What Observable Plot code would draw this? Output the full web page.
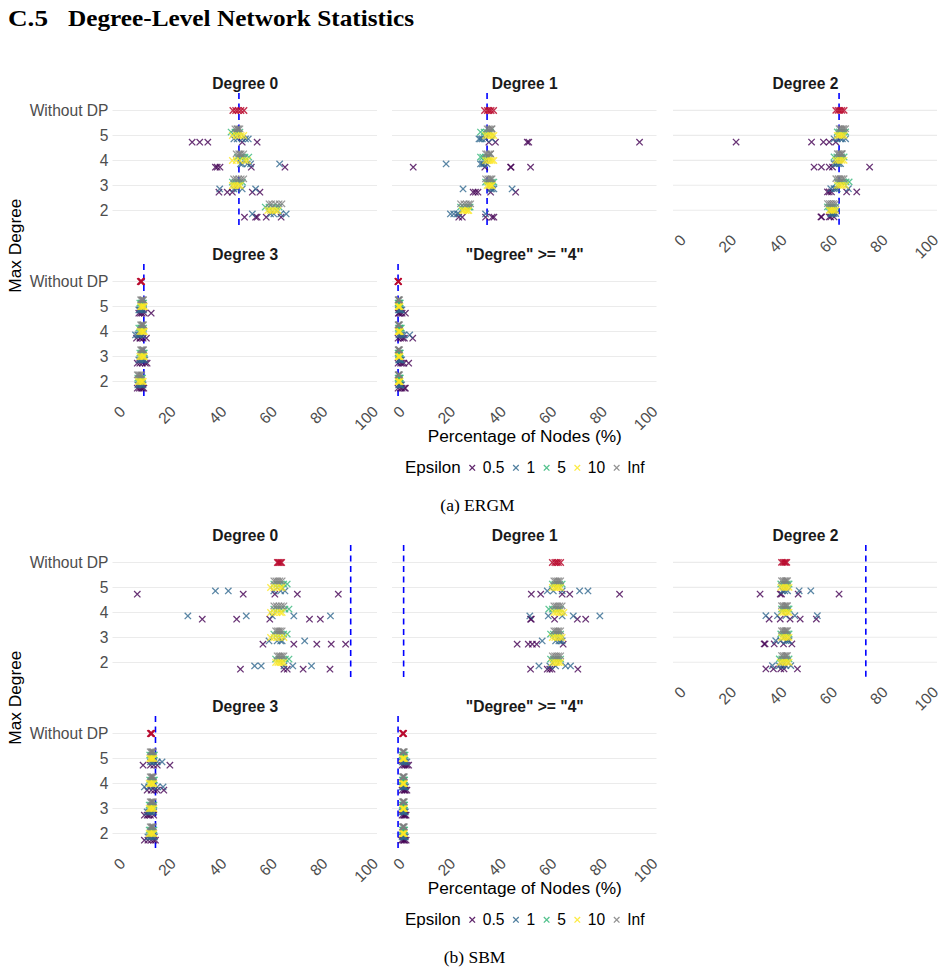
<!DOCTYPE html>
<html>
<head>
<meta charset="utf-8">
<script src="https://cdn.jsdelivr.net/npm/d3@7"></script>
<script src="https://cdn.jsdelivr.net/npm/@observablehq/plot@0.6"></script>
<style>
  body { margin: 0; background: #fff; }
  #page { position: relative; width: 945px; height: 974px; overflow: hidden; background: #fff; }
  .panel { position: absolute; }
  #overlay { position: absolute; left: 0; top: 0; }
</style>
</head>
<body>
<div id="page"></div>
<script>
// ---- categories and labels ----
const panelTitles = ["Degree 0", "Degree 1", "Degree 2", "Degree 3", "\"Degree\" >= \"4\""];
const maxDegreeLevels = ["Without DP", "5", "4", "3", "2"];
const epsilonLevels = ["0.5", "1", "5", "10", "Inf"];
const epsilonColors = ["#440154", "#31688E", "#35B779", "#FDE725", "#7F7F7F"];
const xTicks = [0, 20, 40, 60, 80, 100];
const xDomain = [-2.2, 102.4];

// reference value (dashed line) per degree panel
const ergmReference = [47.6, 35.2, 63.4, 10.0, 0.0];
const sbmReference = [91.8, 2.2, 74.0, 14.6, 0.0];

// ---- ERGM: [max degree, epsilon, percentage of nodes in five runs] ----
const ergmDegree0 = [
  ["5", "0.5", [29.1, 32.1, 35.3, 48.9, 54.8]],
  ["5", "1", [45.6, 46.9, 48.9, 50.2, 51.3]],
  ["5", "5", [44.5, 46.0, 46.5, 47.0, 48.0]],
  ["5", "10", [45.0, 46.5, 47.5, 48.5, 49.5]],
  ["5", "Inf", [46.0, 46.8, 47.0, 47.5, 48.0]],
  ["4", "0.5", [38.3, 39.0, 40.1, 52.5, 65.8]],
  ["4", "1", [48.2, 48.9, 50.9, 52.2, 63.7]],
  ["4", "5", [47.0, 48.5, 49.0, 50.0, 51.5]],
  ["4", "10", [45.0, 46.5, 48.0, 50.0, 51.0]],
  ["4", "Inf", [46.5, 47.5, 48.0, 48.5, 49.5]],
  ["3", "0.5", [39.7, 43.0, 45.0, 52.9, 55.9]],
  ["3", "1", [40.0, 45.6, 46.9, 48.9, 54.2]],
  ["3", "5", [45.0, 46.0, 47.0, 48.0, 49.0]],
  ["3", "10", [45.0, 45.8, 46.5, 47.5, 48.2]],
  ["3", "Inf", [45.5, 46.5, 47.5, 48.5, 49.5]],
  ["2", "0.5", [49.8, 54.2, 54.8, 58.4, 64.3]],
  ["2", "1", [52.9, 60.1, 61.4, 64.1, 66.3]],
  ["2", "5", [58.0, 59.5, 61.0, 62.5, 63.5]],
  ["2", "10", [59.0, 60.0, 61.0, 62.0, 63.0]],
  ["2", "Inf", [59.5, 60.5, 62.0, 63.5, 64.6]]
];
const ergmDegree0NoDP = [45.2, 46.3, 47.3, 48.4, 49.6];

const ergmDegree1 = [
  ["5", "0.5", [35.9, 38.5, 51.1, 51.7, 95.5]],
  ["5", "1", [32.0, 32.6, 33.3, 34.6, 37.2]],
  ["5", "5", [32.6, 34.0, 35.0, 36.0, 36.6]],
  ["5", "10", [34.6, 35.5, 36.5, 37.2, 37.9]],
  ["5", "Inf", [35.2, 35.8, 36.4, 37.0, 37.2]],
  ["4", "0.5", [6.0, 34.3, 44.5, 44.7, 52.4]],
  ["4", "1", [19.0, 32.6, 33.3, 33.9, 35.2]],
  ["4", "5", [32.6, 33.5, 34.5, 35.5, 35.9]],
  ["4", "10", [34.6, 35.5, 36.4, 37.2, 37.9]],
  ["4", "Inf", [34.6, 35.2, 36.0, 36.6, 36.6]],
  ["3", "0.5", [29.7, 30.6, 31.6, 36.6, 46.5]],
  ["3", "1", [25.7, 36.6, 37.2, 37.9, 45.1]],
  ["3", "5", [34.6, 35.5, 36.5, 37.3, 37.9]],
  ["3", "10", [35.2, 35.8, 36.4, 37.0, 37.2]],
  ["3", "Inf", [34.6, 35.5, 36.2, 36.8, 37.2]],
  ["2", "0.5", [24.0, 25.4, 34.6, 37.2, 37.9]],
  ["2", "1", [20.7, 22.0, 23.4, 24.0, 34.6]],
  ["2", "5", [24.7, 25.8, 27.0, 28.0, 28.5]],
  ["2", "10", [25.4, 26.0, 26.8, 27.5, 28.0]],
  ["2", "Inf", [24.7, 26.0, 27.0, 28.0, 28.7]]
];
const ergmDegree1NoDP = [34.2, 35.3, 36.0, 36.8, 37.8];

const ergmDegree2 = [
  ["5", "0.5", [22.6, 52.5, 57.2, 59.5, 62.1]],
  ["5", "1", [61.4, 62.7, 64.0, 64.7, 66.0]],
  ["5", "5", [62.7, 63.5, 64.5, 65.3, 66.0]],
  ["5", "10", [62.7, 63.3, 64.0, 64.7, 65.4]],
  ["5", "Inf", [63.4, 64.0, 64.7, 65.3, 66.0]],
  ["4", "0.5", [53.5, 56.4, 59.5, 60.8, 75.5]],
  ["4", "1", [61.4, 62.1, 62.7, 63.4, 64.0]],
  ["4", "5", [61.4, 62.5, 63.5, 64.5, 65.4]],
  ["4", "10", [62.1, 63.0, 63.8, 64.6, 65.4]],
  ["4", "Inf", [62.7, 63.3, 63.9, 64.5, 64.7]],
  ["3", "0.5", [58.8, 59.5, 60.4, 66.4, 70.4]],
  ["3", "1", [60.1, 61.4, 62.1, 62.7, 67.1]],
  ["3", "5", [62.7, 64.0, 65.0, 66.2, 67.4]],
  ["3", "10", [62.7, 63.5, 64.3, 65.0, 66.0]],
  ["3", "Inf", [62.1, 63.0, 63.8, 64.6, 65.4]],
  ["2", "0.5", [56.2, 56.5, 59.5, 60.1, 61.4]],
  ["2", "1", [60.1, 60.4, 60.8, 61.4, 62.1]],
  ["2", "5", [58.8, 59.6, 60.4, 61.2, 62.1]],
  ["2", "10", [59.5, 60.1, 60.8, 61.4, 62.1]],
  ["2", "Inf", [58.8, 59.6, 60.4, 61.2, 62.1]]
];
const ergmDegree2NoDP = [62.1, 63.0, 63.7, 64.5, 65.4];

const ergmDegree3 = [
  ["5", "0.5", [8.0, 8.7, 9.3, 10.2, 12.9]],
  ["5", "1", [8.0, 8.4, 8.7, 9.3, 9.9]],
  ["5", "5", [8.4, 9.0, 9.2, 9.6, 9.9]],
  ["5", "10", [8.7, 9.1, 9.5, 9.9, 10.2]],
  ["5", "Inf", [8.7, 9.1, 9.4, 9.7, 9.9]],
  ["4", "0.5", [7.1, 8.4, 8.7, 9.7, 11.0]],
  ["4", "1", [6.7, 7.6, 8.0, 8.7, 9.7]],
  ["4", "5", [8.0, 8.7, 9.0, 9.3, 9.9]],
  ["4", "10", [8.4, 9.0, 9.5, 9.9, 10.2]],
  ["4", "Inf", [8.7, 9.1, 9.4, 9.7, 9.9]],
  ["3", "0.5", [7.4, 8.4, 9.4, 10.6, 11.3]],
  ["3", "1", [8.0, 8.7, 9.3, 9.9, 10.4]],
  ["3", "5", [8.4, 9.0, 9.5, 9.9, 10.2]],
  ["3", "10", [8.4, 9.0, 9.5, 9.9, 10.2]],
  ["3", "Inf", [8.7, 9.1, 9.4, 9.7, 9.9]],
  ["2", "0.5", [7.4, 8.2, 8.9, 9.5, 10.0]],
  ["2", "1", [7.6, 8.2, 8.8, 9.3, 9.7]],
  ["2", "5", [7.6, 8.2, 8.8, 9.2, 9.5]],
  ["2", "10", [7.8, 8.4, 9.0, 9.4, 9.8]],
  ["2", "Inf", [7.4, 7.8, 8.3, 8.8, 9.2]]
];
const ergmDegree3NoDP = [8.6, 8.8, 8.9, 9.0, 9.1];

const ergmDegree4 = [
  ["5", "0.5", [0.1, 0.3, 0.9, 1.6, 2.9]],
  ["5", "1", [0.1, 0.5, 0.8, 1.0, 1.5]],
  ["5", "5", [0.0, 0.3, 0.4, 0.6, 0.9]],
  ["5", "10", [0.0, 0.2, 0.3, 0.5, 0.8]],
  ["5", "Inf", [0.0, 0.2, 0.3, 0.4, 0.6]],
  ["4", "0.5", [0.0, 1.0, 1.9, 2.5, 5.8]],
  ["4", "1", [0.3, 1.0, 1.6, 2.3, 4.6]],
  ["4", "5", [0.1, 0.5, 0.7, 0.9, 1.3]],
  ["4", "10", [0.0, 0.3, 0.4, 0.6, 0.9]],
  ["4", "Inf", [0.0, 0.2, 0.3, 0.4, 0.6]],
  ["3", "0.5", [0.0, 1.0, 1.6, 2.3, 4.2]],
  ["3", "1", [0.2, 0.6, 0.8, 1.0, 1.4]],
  ["3", "5", [0.0, 0.3, 0.5, 0.7, 0.9]],
  ["3", "10", [0.0, 0.2, 0.4, 0.6, 0.8]],
  ["3", "Inf", [0.0, 0.2, 0.3, 0.4, 0.6]],
  ["2", "0.5", [0.0, 1.0, 1.6, 2.5, 2.9]],
  ["2", "1", [0.2, 0.6, 0.8, 1.0, 1.4]],
  ["2", "5", [0.0, 0.3, 0.5, 0.7, 0.9]],
  ["2", "10", [0.0, 0.2, 0.4, 0.6, 0.8]],
  ["2", "Inf", [0.0, 0.2, 0.3, 0.4, 0.6]]
];
const ergmDegree4NoDP = [0.0, 0.0, 0.1, 0.1, 0.2];

// ---- SBM: [max degree, epsilon, percentage of nodes in five runs] ----
const sbmDegree0 = [
  ["5", "0.5", [7.4, 49.3, 61.8, 70.7, 86.9]],
  ["5", "1", [38.3, 43.4, 61.4, 64.1, 65.8]],
  ["5", "5", [61.4, 62.7, 64.0, 65.3, 66.7]],
  ["5", "10", [60.1, 61.4, 62.7, 64.0, 64.7]],
  ["5", "Inf", [61.4, 62.2, 63.0, 63.8, 64.7]],
  ["4", "0.5", [33.1, 46.7, 59.8, 75.5, 79.8]],
  ["4", "1", [27.4, 50.5, 60.8, 69.3, 83.8]],
  ["4", "5", [61.4, 62.8, 64.3, 65.8, 67.4]],
  ["4", "10", [60.1, 61.4, 62.7, 64.0, 64.7]],
  ["4", "Inf", [61.4, 62.4, 63.4, 64.4, 65.4]],
  ["3", "0.5", [57.1, 69.3, 78.4, 84.1, 89.8]],
  ["3", "1", [59.5, 62.7, 64.1, 64.7, 73.6]],
  ["3", "5", [61.4, 62.7, 64.0, 65.3, 66.7]],
  ["3", "10", [60.1, 61.4, 62.7, 64.0, 65.4]],
  ["3", "Inf", [62.1, 62.8, 63.4, 64.0, 64.7]],
  ["2", "0.5", [48.2, 65.4, 66.7, 73.0, 83.6]],
  ["2", "1", [53.8, 56.4, 65.4, 68.9, 76.3]],
  ["2", "5", [62.1, 63.4, 64.7, 66.0, 67.4]],
  ["2", "10", [62.1, 63.0, 63.8, 64.6, 65.4]],
  ["2", "Inf", [62.7, 63.4, 64.0, 64.7, 65.4]]
];
const sbmDegree0NoDP = [62.8, 63.2, 63.6, 64.1, 64.5];

const sbmDegree1 = [
  ["5", "0.5", [52.7, 56.4, 64.9, 67.9, 87.6]],
  ["5", "1", [59.0, 61.4, 64.9, 71.8, 75.1]],
  ["5", "5", [61.0, 62.0, 63.0, 64.0, 64.9]],
  ["5", "10", [61.0, 62.0, 62.7, 63.5, 64.3]],
  ["5", "Inf", [61.6, 62.3, 63.0, 63.6, 64.3]],
  ["4", "0.5", [52.4, 52.7, 61.9, 70.9, 74.2]],
  ["4", "1", [52.1, 59.4, 64.9, 69.3, 79.8]],
  ["4", "5", [59.6, 61.0, 62.3, 63.4, 64.3]],
  ["4", "10", [61.6, 62.6, 63.6, 64.6, 65.6]],
  ["4", "Inf", [61.6, 62.4, 63.2, 64.0, 64.9]],
  ["3", "0.5", [47.1, 51.5, 53.1, 54.8, 65.3]],
  ["3", "1", [57.0, 62.3, 63.6, 64.3, 64.9]],
  ["3", "5", [60.3, 61.4, 62.5, 63.4, 64.3]],
  ["3", "10", [61.0, 62.0, 63.0, 64.0, 64.9]],
  ["3", "Inf", [61.6, 62.3, 63.0, 63.6, 64.3]],
  ["2", "0.5", [52.4, 59.0, 60.0, 60.9, 71.1]],
  ["2", "1", [55.7, 60.0, 62.3, 66.2, 68.2]],
  ["2", "5", [60.3, 61.4, 62.5, 63.4, 64.3]],
  ["2", "10", [61.0, 61.9, 62.7, 63.5, 64.3]],
  ["2", "Inf", [61.0, 61.9, 62.7, 63.5, 64.3]]
];
const sbmDegree1NoDP = [61.0, 62.0, 62.7, 63.4, 64.3];

const sbmDegree2 = [
  ["5", "0.5", [32.1, 40.1, 40.6, 47.2, 63.4]],
  ["5", "1", [41.0, 41.9, 43.0, 47.6, 52.2]],
  ["5", "5", [40.3, 41.3, 42.1, 42.9, 43.6]],
  ["5", "10", [40.3, 41.2, 42.0, 42.8, 43.6]],
  ["5", "Inf", [40.6, 41.3, 42.0, 42.5, 43.0]],
  ["4", "0.5", [35.7, 40.1, 44.0, 48.0, 54.4]],
  ["4", "1", [34.4, 39.0, 42.3, 45.9, 54.8]],
  ["4", "5", [40.6, 41.4, 42.2, 43.0, 43.6]],
  ["4", "10", [40.6, 41.4, 42.2, 43.0, 43.6]],
  ["4", "Inf", [40.6, 41.3, 42.0, 42.5, 43.0]],
  ["3", "0.5", [33.7, 34.1, 37.7, 41.4, 44.7]],
  ["3", "1", [38.3, 40.3, 42.3, 43.0, 43.6]],
  ["3", "5", [40.3, 41.3, 42.1, 42.9, 43.6]],
  ["3", "10", [40.6, 41.4, 42.2, 43.0, 43.6]],
  ["3", "Inf", [40.6, 41.3, 42.0, 42.5, 43.0]],
  ["2", "0.5", [34.4, 37.4, 40.3, 41.6, 46.9]],
  ["2", "1", [37.0, 39.7, 41.0, 42.3, 44.3]],
  ["2", "5", [39.7, 40.7, 41.7, 42.7, 43.6]],
  ["2", "10", [40.1, 41.0, 41.9, 42.8, 43.6]],
  ["2", "Inf", [40.6, 41.3, 42.0, 42.5, 43.0]]
];
const sbmDegree2NoDP = [40.6, 41.2, 41.8, 42.2, 42.7];

const sbmDegree3 = [
  ["5", "0.5", [9.7, 12.6, 13.9, 15.3, 20.3]],
  ["5", "1", [12.6, 13.3, 13.9, 15.3, 17.2]],
  ["5", "5", [12.3, 12.8, 13.3, 13.8, 14.2]],
  ["5", "10", [12.3, 12.8, 13.2, 13.6, 14.0]],
  ["5", "Inf", [12.5, 12.9, 13.2, 13.5, 13.8]],
  ["4", "0.5", [11.3, 12.9, 14.2, 15.3, 17.9]],
  ["4", "1", [10.2, 11.9, 13.7, 15.3, 17.6]],
  ["4", "5", [12.3, 12.8, 13.3, 13.8, 14.2]],
  ["4", "10", [12.1, 12.6, 13.1, 13.6, 14.0]],
  ["4", "Inf", [12.5, 12.9, 13.2, 13.5, 13.8]],
  ["3", "0.5", [10.2, 11.3, 11.9, 12.6, 13.9]],
  ["3", "1", [11.3, 12.0, 12.6, 13.2, 13.9]],
  ["3", "5", [12.1, 12.6, 13.1, 13.6, 14.0]],
  ["3", "10", [12.1, 12.6, 13.1, 13.6, 14.0]],
  ["3", "Inf", [12.5, 12.9, 13.2, 13.5, 13.8]],
  ["2", "0.5", [10.2, 11.6, 12.9, 13.9, 14.6]],
  ["2", "1", [11.6, 12.3, 12.9, 13.5, 14.2]],
  ["2", "5", [12.1, 12.6, 13.1, 13.6, 14.0]],
  ["2", "10", [12.1, 12.6, 13.1, 13.6, 14.0]],
  ["2", "Inf", [12.5, 12.9, 13.2, 13.5, 13.8]]
];
const sbmDegree3NoDP = [12.6, 12.8, 12.9, 13.0, 13.1];

const sbmDegree4 = [
  ["5", "0.5", [1.6, 2.3, 2.9, 3.6, 4.2]],
  ["5", "1", [1.6, 2.2, 2.5, 2.9, 3.5]],
  ["5", "5", [1.6, 2.0, 2.2, 2.4, 2.8]],
  ["5", "10", [1.6, 2.0, 2.1, 2.3, 2.6]],
  ["5", "Inf", [1.7, 2.0, 2.1, 2.3, 2.5]],
  ["4", "0.5", [1.6, 2.3, 2.6, 2.9, 3.5]],
  ["4", "1", [1.6, 2.0, 2.3, 2.5, 3.0]],
  ["4", "5", [1.7, 2.0, 2.2, 2.4, 2.6]],
  ["4", "10", [1.7, 2.0, 2.1, 2.3, 2.5]],
  ["4", "Inf", [1.7, 2.0, 2.1, 2.3, 2.5]],
  ["3", "0.5", [1.6, 2.2, 2.5, 2.8, 3.2]],
  ["3", "1", [1.6, 2.0, 2.3, 2.5, 2.9]],
  ["3", "5", [1.7, 2.0, 2.2, 2.4, 2.6]],
  ["3", "10", [1.7, 2.0, 2.1, 2.3, 2.5]],
  ["3", "Inf", [1.7, 2.0, 2.1, 2.3, 2.5]],
  ["2", "0.5", [1.4, 2.0, 2.4, 2.6, 3.2]],
  ["2", "1", [1.6, 2.0, 2.3, 2.5, 2.9]],
  ["2", "5", [1.7, 2.0, 2.2, 2.4, 2.6]],
  ["2", "10", [1.7, 2.0, 2.1, 2.3, 2.5]],
  ["2", "Inf", [1.7, 2.0, 2.1, 2.3, 2.5]]
];
const sbmDegree4NoDP = [1.8, 1.9, 2.0, 2.1, 2.2];

// ---- layout ----
const FONT = "'Liberation Sans', Arial, Helvetica, sans-serif";
const SERIF = "'Liberation Serif', 'Times New Roman', serif";
const panelWidth = 264.5;
const panelHeight = 134.7;
const columnLeft = [112.5, 392, 672.5];
// vertical offset of each epsilon group within a max-degree row
const epsilonOffset = {"0.5": 6.7, "1": 3.4, "5": -3.4, "10": 0, "Inf": -6.7};
const noDpColor = "#BA0C2F";

const page = document.getElementById("page");

function drawPanel({runs, noDP, reference, title, col, panelTop, showX}) {
  const ml = col === 0 ? 112.5 : 14;
  const mr = col === 0 ? 8 : 8.5;
  const mt = 26;
  const mb = showX ? 34.3 : 4.3;
  const points = runs.flatMap(([maxDegree, epsilon, values]) =>
    values.map((value) => ({maxDegree, epsilon, value})));
  const marks = [
    Plot.gridY({stroke: "#EBEBEB", strokeOpacity: 1, strokeWidth: 1.1}),
    Plot.ruleX([reference], {stroke: "#0000FF", strokeWidth: 1.6, strokeDasharray: "6,4.5"}),
    ...epsilonLevels.map((eps) => Plot.dot(points.filter((d) => d.epsilon === eps), {
      x: "value", y: "maxDegree", stroke: "epsilon", symbol: "times",
      r: 3, strokeWidth: 1.3, strokeOpacity: 0.8, dy: epsilonOffset[eps]
    })),
    Plot.dot(noDP, {
      x: (d) => d, y: () => "Without DP", stroke: noDpColor, symbol: "times",
      r: 3, strokeWidth: 1.4, strokeOpacity: 0.85
    }),
    Plot.text([title], {
      frameAnchor: "top", lineAnchor: "bottom", dy: -4.3,
      fontSize: 15.6, fontWeight: "bold", fill: "#1A1A1A"
    })
  ];
  if (col === 0) {
    marks.push(Plot.axisY({tickSize: 0, tickPadding: 4.5, fontSize: 15.6, fill: "#4D4D4D", label: null}));
  }
  if (showX) {
    marks.push(Plot.axisX(xTicks, {
      tickSize: 0, tickPadding: 5.5, tickRotate: -45, textAnchor: "end", lineAnchor: "top",
      fontSize: 15.6, fill: "#4D4D4D", label: null
    }));
  }
  const width = ml + panelWidth + mr;
  const height = mt + panelHeight + mb;
  const chart = Plot.plot({
    width, height,
    marginLeft: ml, marginRight: mr, marginTop: mt, marginBottom: mb,
    style: {fontFamily: FONT, background: "transparent", overflow: "visible"},
    x: showX ? {domain: xDomain} : {domain: xDomain, axis: null},
    y: col === 0
      ? {type: "point", domain: maxDegreeLevels, padding: 0.6}
      : {type: "point", domain: maxDegreeLevels, padding: 0.6, axis: null},
    color: {domain: epsilonLevels, range: epsilonColors},
    marks
  });
  const holder = document.createElement("div");
  holder.className = "panel";
  holder.style.left = (columnLeft[col] - ml) + "px";
  holder.style.top = (panelTop - mt) + "px";
  holder.appendChild(chart);
  page.appendChild(holder);
}

function drawFigure(panels, references, rowTops) {
  const slots = [
    {col: 0, row: 0, showX: false},
    {col: 1, row: 0, showX: false},
    {col: 2, row: 0, showX: true},
    {col: 0, row: 1, showX: true},
    {col: 1, row: 1, showX: true}
  ];
  panels.forEach(([runs, noDP], i) => {
    drawPanel({
      runs, noDP, reference: references[i], title: panelTitles[i],
      col: slots[i].col, panelTop: rowTops[slots[i].row], showX: slots[i].showX
    });
  });
}

drawFigure([
  [ergmDegree0, ergmDegree0NoDP],
  [ergmDegree1, ergmDegree1NoDP],
  [ergmDegree2, ergmDegree2NoDP],
  [ergmDegree3, ergmDegree3NoDP],
  [ergmDegree4, ergmDegree4NoDP]
], ergmReference, [92.5, 263.7]);

drawFigure([
  [sbmDegree0, sbmDegree0NoDP],
  [sbmDegree1, sbmDegree1NoDP],
  [sbmDegree2, sbmDegree2NoDP],
  [sbmDegree3, sbmDegree3NoDP],
  [sbmDegree4, sbmDegree4NoDP]
], sbmReference, [544.5, 716.2]);

// ---- titles, axis titles, legends and captions ----
const colorScale = Plot.scale({color: {domain: epsilonLevels, range: epsilonColors}});
const svg = d3.select(page).append("svg")
  .attr("id", "overlay").attr("width", 945).attr("height", 974)
  .style("pointer-events", "none");

svg.append("text").attr("x", 8).attr("y", 26)
  .attr("font-family", SERIF).attr("font-weight", "bold").attr("font-size", 23.5)
  .attr("textLength", 40).attr("lengthAdjust", "spacingAndGlyphs").attr("fill", "#000")
  .text("C.5");
svg.append("text").attr("x", 68).attr("y", 26)
  .attr("font-family", SERIF).attr("font-weight", "bold").attr("font-size", 23.5)
  .attr("textLength", 346).attr("lengthAdjust", "spacingAndGlyphs").attr("fill", "#000")
  .text("Degree-Level Network Statistics");

const plotCenterX = (columnLeft[0] + columnLeft[2] + panelWidth) / 2;

function figureText(offsetY, caption, captionX) {
  svg.append("text")
    .attr("transform", `translate(21,${245.7 + offsetY}) rotate(-90)`)
    .attr("text-anchor", "middle").attr("font-family", FONT).attr("font-size", 17.3)
    .attr("fill", "#000").text("Max Degree");
  svg.append("text").attr("x", plotCenterX).attr("y", 441.5 + offsetY)
    .attr("text-anchor", "middle").attr("font-family", FONT).attr("font-size", 17.3)
    .attr("fill", "#000").text("Percentage of Nodes (%)");

  // legend: title followed by a cross and a label per epsilon level
  const g = svg.append("g");
  let x = 0;
  const baseline = 473 + offsetY;
  const title = g.append("text").attr("x", x).attr("y", baseline)
    .attr("font-family", FONT).attr("font-size", 17).attr("fill", "#000").text("Epsilon");
  x += title.node().getComputedTextLength();
  epsilonLevels.forEach((eps) => {
    x += 6;
    const cx = x + 5.5, cy = baseline - 5.2;
    g.append("path")
      .attr("d", `M${cx - 2.8},${cy - 2.8}L${cx + 2.8},${cy + 2.8}M${cx - 2.8},${cy + 2.8}L${cx + 2.8},${cy - 2.8}`)
      .attr("stroke", colorScale.apply(eps)).attr("stroke-width", 1.3).attr("stroke-opacity", 0.85)
      .attr("fill", "none");
    x += 11 + 5;
    const label = g.append("text").attr("x", x).attr("y", baseline)
      .attr("font-family", FONT).attr("font-size", 15.6).attr("fill", "#000").text(eps);
    x += label.node().getComputedTextLength();
  });
  g.attr("transform", `translate(${plotCenterX - x / 2},0)`);

  svg.append("text").attr("x", captionX).attr("y", 511 + offsetY)
    .attr("text-anchor", "middle").attr("font-family", SERIF).attr("font-size", 17.5)
    .attr("fill", "#000").text(caption);
}

figureText(0, "(a) ERGM", 477.5);
figureText(452, "(b) SBM", 474.5);
</script>
</body>
</html>
